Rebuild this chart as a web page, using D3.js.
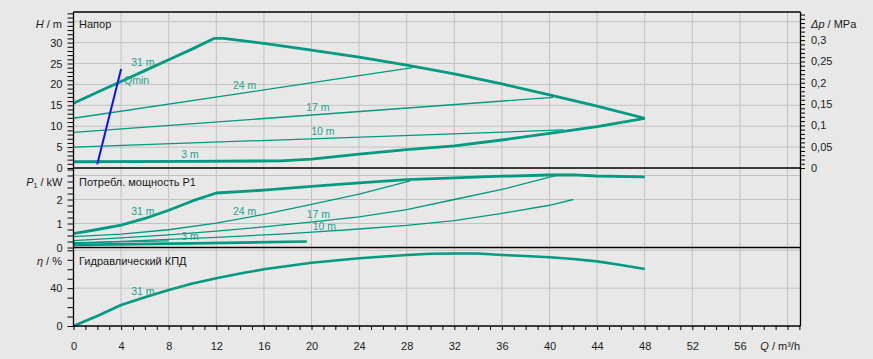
<!DOCTYPE html>
<html><head><meta charset="utf-8">
<script src="https://cdn.jsdelivr.net/npm/d3@7"></script>
<style>
html,body{margin:0;padding:0;background:#e8e8e8;}
svg{display:block;font-family:"Liberation Sans",Arial,sans-serif;}
</style>
</head><body>
<svg id="c" width="873" height="359"></svg>
<script>
// ---------- DATA ----------
// Head (H, m) vs flow (Q, m³/h)
const headQ31 = [0,2,4,6,8,10,11.8,12.6,16,20,24,28,32,36,40,44,48];
const headH31 = [15.5,18.1,20.7,23.3,25.9,28.5,31.0,31.0,29.8,28.2,26.5,24.6,22.5,20.1,17.5,14.8,11.9];
const headQLow = [0,9.8,17.4,20,24,28,32,36,40,44,48];
const headHLow = [1.5,1.6,1.7,2.1,3.3,4.4,5.3,6.7,8.3,9.9,11.9];
const headQ24 = [0,28.5], headH24 = [11.9,24.0];
const headQ17 = [0,40.3], headH17 = [8.5,16.9];
const headQ10 = [0,41.2], headH10 = [5.0,9.1];
const qminQ = [2,4], qminH = [0.9,23.7];

// Power P1 (kW)
const powQ31 = [0,2,4,6,8,10,12,16,20,24,28,32,36,40,42,44,48];
const powP31 = [0.58,0.75,0.93,1.21,1.55,1.94,2.27,2.39,2.55,2.69,2.83,2.9,2.97,3.02,3.03,2.98,2.94];
const powQ24 = [0,4,8,12,16,20,24,28.3];
const powP24 = [0.45,0.56,0.74,1.02,1.38,1.8,2.22,2.78];
const powQ17 = [0,4,8,12,16,20.7,24,28,32,36,40.6];
const powP17 = [0.29,0.4,0.53,0.68,0.86,1.1,1.28,1.58,2.0,2.42,3.01];
const powQ10 = [0,12,17.4,20.7,24,28,32,36,40,42];
const powP10 = [0.17,0.42,0.56,0.66,0.77,0.92,1.12,1.42,1.76,2.0];
const powQ3 = [0,10,19.6], powP3 = [0.11,0.17,0.25];
const powQ3b = [0,8], powP3b = [0.2,0.28];

// Hydraulic efficiency (%)
const effQ = [0,2,4,6,8,10,12,14,16,20,24,28,30,32,34,36,38,40,42,44,46,48];
const effE = [0,10.6,22.2,30.3,38.1,45,50.4,55.5,59.9,66.9,71.6,75.1,76.3,76.7,76.6,75.1,74,72.6,70.8,68.3,64.5,60.3];

// Tick labels
const qTickLabels = [0,4,8,12,16,20,24,28,32,36,40,44,48,52,56];
const hTickLabels = [0,5,10,15,20,25,30];
const dpTickLabels = ["0","0,05","0,1","0,15","0,2","0,25","0,3"];
const pTickLabels = [0,1,2];
const eTickLabels = [0,40];

// Curve labels [text, Q, value]
const headLabels = [["31 m",4.85,24.3],["24 m",13.4,19.0],["17 m",19.55,13.7],["10 m",19.97,8.0],["3 m",9.05,2.5],["Qmin",4.25,20]];
const powLabels = [["31 m",4.85,1.34],["24 m",13.4,1.34],["17 m",19.6,1.23],["10 m",20.1,0.75],["3 m",9.05,0.3]];
const effLabels = [["31 m",4.85,32.6]];

// ---------- LAYOUT ----------
const L = 73.5, R = 800.5;
const T1 = 12, B1 = 168, B2 = 247.5, B3 = 326;
const teal = "#009a80", tealTxt = "#26a08c", ink = "#1a1a1a", grid = "#c2c2c2";

const svg = d3.select("#c");
const x = d3.scaleLinear().domain([0, 60]).range([L, L + 60*11.9]);
const Qmax = x.invert(R);
const yH = d3.scaleLinear().domain([0, (B1 - T1)/4.18]).range([B1, T1]);
const yDp = d3.scaleLinear().domain([0, (B1 - T1)/4.18/101.97]).range([B1, T1]);
const yP = d3.scaleLinear().domain([0, (B2 - B1)/24]).range([B2, B1]);
const yE = d3.scaleLinear().domain([0, (B3 - B2)/0.946]).range([B3, B2]);

// ---------- GRID ----------
const g = svg.append("g");
d3.range(4, 61, 4).forEach(q => {
  g.append("line").attr("x1", x(q)).attr("x2", x(q)).attr("y1", T1).attr("y2", B3)
   .attr("stroke", grid).attr("stroke-width", 1);
});
[5,10,15,20,25,30,35].forEach(h => g.append("line").attr("x1", L).attr("x2", R)
  .attr("y1", yH(h)).attr("y2", yH(h)).attr("stroke", grid));
[1,2,3].forEach(p => g.append("line").attr("x1", L).attr("x2", R)
  .attr("y1", yP(p)).attr("y2", yP(p)).attr("stroke", grid));
[40,80].forEach(e => g.append("line").attr("x1", L).attr("x2", R)
  .attr("y1", yE(e)).attr("y2", yE(e)).attr("stroke", grid));

// ---------- CURVES ----------
function curve(qs, vs, ys, w, col) {
  const pts = qs.map((q, i) => [q, vs[i]]);
  svg.append("path").datum(pts)
    .attr("d", d3.line().x(d => x(d[0])).y(d => ys(d[1])))
    .attr("fill", "none").attr("stroke", col || teal).attr("stroke-width", w)
    .attr("stroke-linejoin", "round");
}
curve(headQ24, headH24, yH, 1.3);
curve(headQ17, headH17, yH, 1.3);
curve(headQ10, headH10, yH, 1.3);
curve(headQ31, headH31, yH, 2.8);
curve(headQLow, headHLow, yH, 2.8);
curve(qminQ, qminH, yH, 2, "#0a14ee");

curve(powQ24, powP24, yP, 1.3);
curve(powQ17, powP17, yP, 1.3);
curve(powQ10, powP10, yP, 1.3);
curve(powQ3b, powP3b, yP, 1.3);
curve(powQ3, powP3, yP, 2.6);
curve(powQ31, powP31, yP, 2.8);

curve(effQ, effE, yE, 2.6);

// ---------- CURVE LABELS ----------
function labels(arr, ys) {
  arr.forEach(d => svg.append("text").attr("x", x(d[1])).attr("y", ys(d[2]))
    .attr("font-size", 10.5).attr("fill", tealTxt).text(d[0]));
}
labels(headLabels, yH);
labels(powLabels, yP);
labels(effLabels, yE);

// ---------- FRAME ----------
const fr = svg.append("g").attr("stroke", "#000").attr("stroke-width", 1.3);
fr.append("line").attr("x1", L).attr("x2", R).attr("y1", T1).attr("y2", T1);
fr.append("line").attr("x1", L).attr("x2", R).attr("y1", B1).attr("y2", B1);
fr.append("line").attr("x1", L).attr("x2", R).attr("y1", B2).attr("y2", B2);
fr.append("line").attr("x1", L).attr("x2", R).attr("y1", B3).attr("y2", B3);
fr.append("line").attr("x1", L).attr("x2", L).attr("y1", T1).attr("y2", B3);
fr.append("line").attr("x1", R).attr("x2", R).attr("y1", T1).attr("y2", B3);

// ---------- AXES ----------
function styleAxis(sel) {
  sel.select(".domain").remove();
  sel.selectAll(".tick line").attr("stroke", "#000");
  sel.selectAll(".tick text").attr("fill", ink).attr("font-size", 11)
     .attr("font-family", "'Liberation Sans',Arial,sans-serif");
}
// Head
svg.append("g").attr("transform", `translate(${L},0)`)
  .call(d3.axisLeft(yH).tickValues(d3.range(0, 38)).tickSize(6).tickPadding(5)
    .tickFormat(d => hTickLabels.includes(d) ? d : ""))
  .call(styleAxis);
// Δp right
const dpVals = d3.range(0, 37).map(i => i / 100);
svg.append("g").attr("transform", `translate(${R},0)`)
  .call(d3.axisRight(yDp).tickValues(dpVals).tickSize(4.5).tickPadding(6)
    .tickFormat((d, i) => (i % 5 === 0 && i <= 30) ? dpTickLabels[i / 5] : ""))
  .call(styleAxis);
// Power
svg.append("g").attr("transform", `translate(${L},0)`)
  .call(d3.axisLeft(yP).tickValues(d3.range(0, 14).map(i => i * 0.25)).tickSize(6).tickPadding(5)
    .tickFormat(d => pTickLabels.includes(d) ? d : ""))
  .call(styleAxis);
// Efficiency
svg.append("g").attr("transform", `translate(${L},0)`)
  .call(d3.axisLeft(yE).tickValues(d3.range(0, 81, 10)).tickSize(6).tickPadding(5)
    .tickFormat(d => eTickLabels.includes(d) ? d : ""))
  .call(styleAxis);
// Q bottom
svg.append("g").attr("transform", `translate(0,${B3})`)
  .call(d3.axisBottom(x).tickValues(d3.range(0, Math.floor(Qmax) + 1)).tickSize(4).tickPadding(12)
    .tickFormat(d => qTickLabels.includes(d) ? d : ""))
  .call(styleAxis);

// ---------- AXIS TITLES ----------
function title(xp, yc, anchor, parts) {
  const t = svg.append("text").attr("x", xp).attr("y", yc).attr("dy", "0.35em")
    .attr("text-anchor", anchor).attr("font-size", 11).attr("fill", ink);
  parts.forEach(p => {
    const s = t.append("tspan").text(p[0]);
    if (p[1] === "i") s.attr("font-style", "italic");
    if (p[1] === "sub") s.attr("font-size", 7).attr("dy", 2);
    if (p[1] === "after") s.attr("dy", -2);
  });
}
title(62, 24, "end", [["H", "i"], [" / m"]]);
title(811, 24, "start", [["Δp", "i"], [" / MPa"]]);
title(62.5, 182, "end", [["P", "i"], ["1", "sub"], [" / kW", "after"]]);
title(62, 261, "end", [["η", "i"], [" / %"]]);
title(800, 346, "end", [["Q", "i"], [" / m³/h"]]);

// Panel titles
[["Напор", 24], ["Потребл. мощность P1", 182], ["Гидравлический КПД", 261]].forEach(d => {
  svg.append("text").attr("x", 79).attr("y", d[1]).attr("dy", "0.35em")
    .attr("font-size", 11).attr("fill", ink).text(d[0]);
});
</script>
</body></html>
